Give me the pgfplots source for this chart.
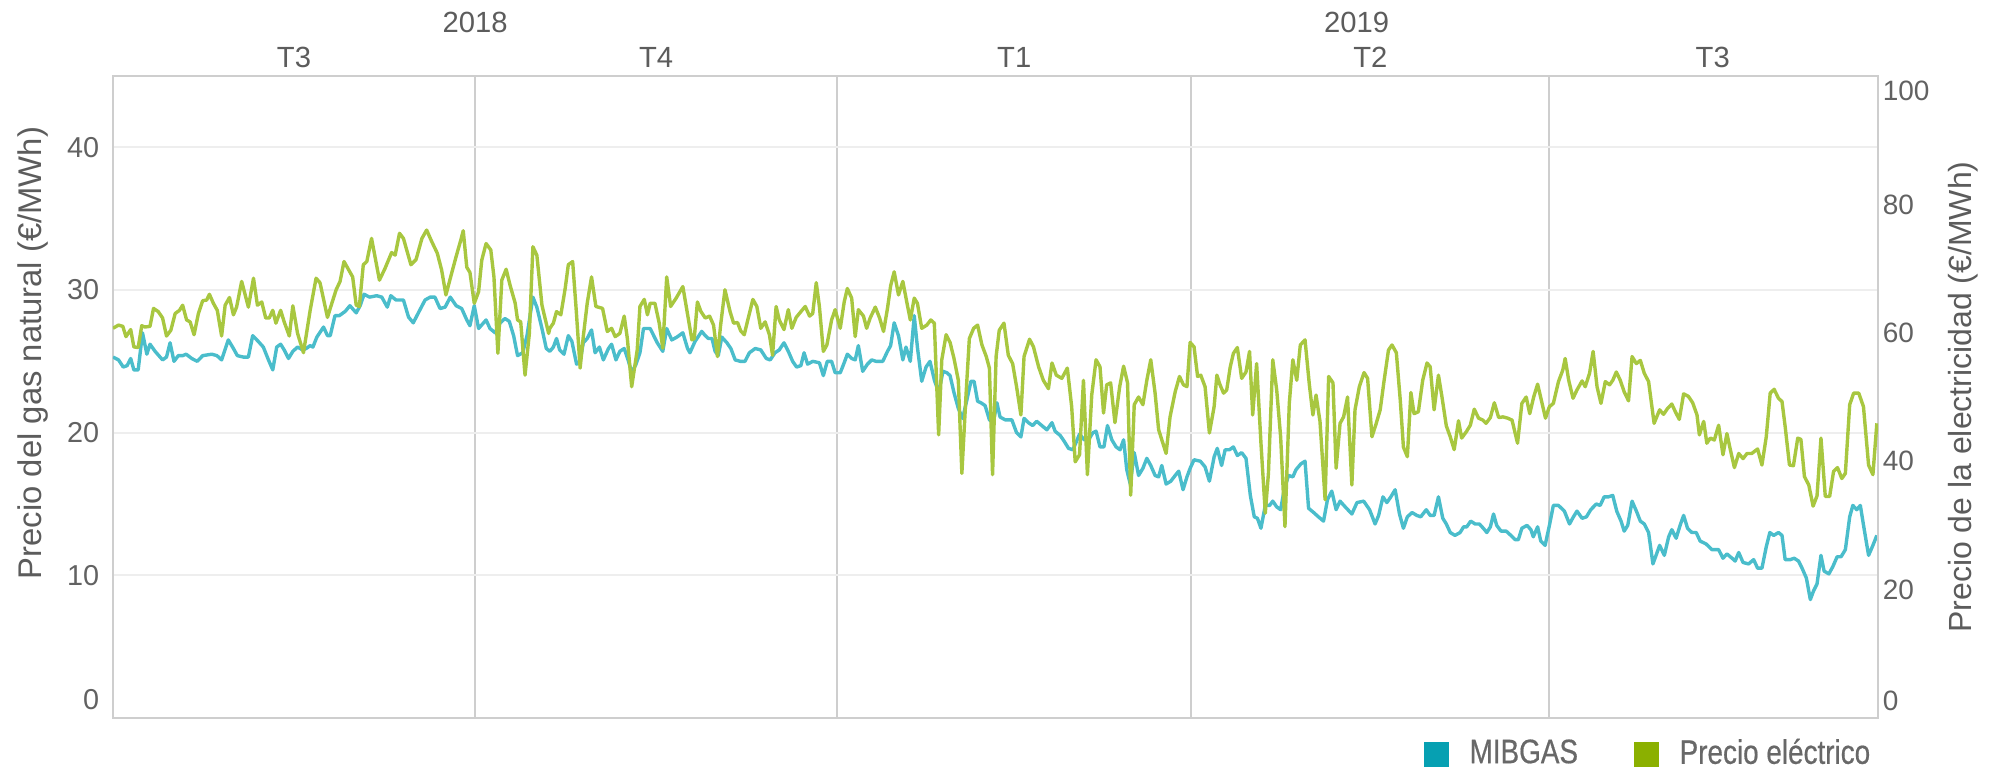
\documentclass[border=0pt]{standalone}
\usepackage{fontspec}
\setmainfont{Liberation Sans}
\newfontfamily\narrowfont[FakeStretch=0.82,FakeBold=0.5]{Liberation Sans}
\usepackage{pgfplots}
\pgfplotsset{compat=1.18}
\usetikzlibrary{calc}
\definecolor{tealLine}{RGB}{74,189,203}
\definecolor{greenLine}{RGB}{168,199,64}
\definecolor{legTeal}{RGB}{6,160,178}
\definecolor{legGreen}{RGB}{139,176,0}
\definecolor{frameGray}{RGB}{206,206,206}
\definecolor{hGrid}{RGB}{238,238,238}
\definecolor{tickGray}{RGB}{98,98,98}
\definecolor{labelGray}{RGB}{92,92,92}
\definecolor{legText}{RGB}{104,104,104}
\begin{document}
\begin{tikzpicture}
\pgfplotsset{
  common/.style={scale only axis, width=441.25pt, height=160.5pt, xmin=0, xmax=448.5,
    major tick length=0pt, /pgf/number format/assume math mode=true,
    clip mode=individual},
}
\begin{axis}[common, name=ax, ymin=0, ymax=45,
  axis line style={draw=frameGray, line width=0.5pt},
  xtick={92,184,274,365}, xticklabels={}, xmajorgrids,
  major x grid style={draw=frameGray, line width=0.5pt},
  ytick={10,20,30,40}, ymajorgrids,
  major y grid style={draw=hGrid, line width=0.5pt},
  extra y ticks={1.26}, extra y tick labels={0}, extra y tick style={grid=none},
  yticklabel style={font=\fontsize{7.2}{8}\selectfont, text=tickGray, inner sep=0pt, anchor=east, xshift=-3.25pt},
  every axis y label/.style={at={(axis description cs:-0.0453,0.5685)}, rotate=90, anchor=center},
  ylabel={Precio del gas natural (€/MWh)},
  ylabel style={font=\fontsize{8.2}{9}\selectfont, text=labelGray},
]
\addplot[tealLine, line width=0.85pt, line join=round] coordinates {
(0,25.3)(1.4,25.1)(2.6,24.6)(3.6,24.7)(4.5,25.2)(5.3,24.4)(6.4,24.4)(7.5,27.0)(8.6,25.5)(9.4,26.2)
(10.7,25.7)(12.6,25.1)(13.6,25.3)(14.5,26.3)(15.5,25.0)(16.6,25.4)(17.7,25.4)(18.6,25.5)(20.0,25.2)
(21.4,25.0)(22.8,25.4)(25.1,25.5)(26.4,25.4)(27.6,25.1)(29.3,26.5)(30.6,25.9)(31.6,25.4)(33.1,25.3)
(34.4,25.3)(35.5,26.8)(36.9,26.4)(38.2,26.0)(39.5,25.1)(40.6,24.4)(41.6,26.0)(42.6,26.2)(43.5,25.8)
(44.6,25.2)(45.7,25.7)(46.9,26.0)(48.2,25.8)(49.1,25.9)(50.1,26.1)(50.8,26.0)(51.8,26.7)(53.5,27.4)
(54.5,26.8)(55.2,26.8)(56.4,28.2)(57.5,28.2)(59.0,28.5)(60.2,28.9)(61.8,28.4)(62.8,28.9)(63.8,29.7)
(65.2,29.5)(67.0,29.6)(68.3,29.5)(69.7,28.8)(70.6,29.6)(71.9,29.3)(73.0,29.3)(73.8,29.3)(75.1,28.1)
(76.3,27.7)(77.6,28.4)(79.3,29.3)(80.6,29.5)(81.8,29.5)(83.1,28.7)(84.4,28.8)(85.7,29.5)(87.2,28.9)
(88.6,28.7)(89.9,27.9)(90.7,27.5)(91.8,28.9)(92.9,27.3)(94.8,27.9)(95.8,27.3)(97.1,27.0)(98.4,27.7)
(99.6,28.0)(100.7,27.8)(101.8,26.8)(102.8,25.4)(104.1,25.6)(105.2,26.8)(106.7,29.5)(107.7,28.8)
(109.0,27.3)(110.1,25.9)(111.0,25.7)(111.9,26.0)(112.7,26.6)(113.5,25.8)(114.6,25.5)(115.7,26.8)
(116.6,26.4)(117.8,24.8)(118.7,25.0)(119.5,26.3)(120.5,26.6)(121.6,27.2)(122.5,25.6)(123.6,26.0)
(124.6,25.1)(125.9,25.9)(126.7,26.2)(127.8,25.1)(128.8,25.7)(129.9,25.9)(131.0,25.0)(131.8,24.2)
(132.9,24.8)(133.9,25.6)(134.8,27.3)(136.5,27.3)(138.3,26.3)(139.7,25.7)(140.7,27.3)(142.0,26.5)
(143.3,26.7)(144.8,27.0)(146.0,25.9)(146.6,25.6)(147.9,26.4)(149.6,27.1)(150.5,26.8)(151.3,26.6)
(152.2,26.6)(153.0,25.7)(153.8,25.4)(154.7,26.7)(156.0,26.3)(157.0,25.9)(158.1,25.1)(159.4,25.0)
(160.6,25.0)(161.7,25.6)(163.2,25.9)(164.6,25.8)(166.0,25.2)(167.0,25.1)(168.2,25.6)(169.3,25.8)
(170.5,26.3)(171.6,25.7)(172.7,25.0)(173.7,24.6)(174.8,24.7)(175.6,25.6)(176.5,24.8)(177.8,25.0)
(179.5,24.9)(180.5,24.0)(181.5,25.0)(182.6,25.0)(183.5,24.2)(184.8,24.2)(185.8,24.9)(186.6,25.5)
(187.7,25.2)(188.6,25.1)(189.4,26.1)(190.5,24.3)(191.7,24.8)(192.8,25.1)(193.9,25.0)(195.6,25.0)
(196.8,25.7)(197.6,26.1)(198.5,27.7)(199.6,26.8)(200.7,25.1)(201.5,26.0)(202.6,25.0)(203.6,28.2)
(204.4,26.0)(205.5,23.6)(206.6,24.6)(207.6,25.0)(208.7,23.7)(209.8,22.8)(210.9,24.3)(211.9,24.2)
(212.7,24.0)(213.7,22.8)(214.8,21.7)(215.9,21.0)(216.9,22.2)(218.0,23.6)(218.8,23.6)(219.7,22.2)
(220.5,22.1)(221.6,21.9)(222.7,20.9)(223.7,20.7)(224.6,22.1)(225.4,21.1)(226.7,20.9)(228.4,20.9)
(229.6,20.0)(230.7,19.7)(231.5,21.0)(232.6,20.7)(233.7,20.5)(234.7,20.8)(236.0,20.5)(237.3,20.2)
(238.6,20.7)(239.4,20.1)(240.7,19.8)(241.7,19.4)(242.8,18.9)(243.9,18.8)(244.7,19.3)(245.6,19.9)
(246.8,19.5)(247.9,19.5)(249.0,20.0)(249.8,20.1)(250.8,19.0)(251.8,19.0)(252.7,20.5)(253.8,19.5)
(254.9,19.0)(255.9,18.8)(256.8,19.5)(257.6,17.4)(258.5,16.4)(259.5,18.6)(260.6,17.0)(261.7,17.5)
(262.7,18.2)(263.7,17.7)(264.8,17.0)(265.7,16.9)(266.5,17.7)(267.6,16.4)(268.8,16.6)(269.9,17.0)
(270.8,17.3)(271.9,16.0)(272.9,16.9)(273.7,17.5)(274.7,18.1)(276.3,18.0)(277.5,17.6)(278.6,16.6)
(279.8,18.3)(280.6,18.9)(281.7,17.7)(282.6,18.8)(283.7,18.8)(284.7,19.0)(285.7,18.4)(286.8,18.6)
(287.9,18.2)(289.0,15.6)(290.0,14.1)(290.8,14.0)(291.7,13.3)(292.8,14.9)(293.9,14.9)(294.7,15.2)
(295.7,14.8)(296.7,14.6)(297.6,16.0)(298.7,17.0)(299.8,16.9)(300.6,17.4)(301.8,17.8)(302.9,18.0)
(303.8,14.7)(305.1,14.4)(306.3,14.1)(307.6,13.8)(308.6,15.3)(309.7,15.9)(310.8,14.6)(311.8,15.2)
(313.1,14.8)(314.8,14.3)(316.1,15.1)(317.8,15.2)(319.3,14.6)(320.7,13.6)(321.6,14.2)(322.7,15.5)
(323.7,15.1)(324.7,15.5)(325.8,16.0)(326.9,14.3)(327.9,13.3)(328.9,14.1)(330.1,14.4)(331.3,14.2)
(332.3,14.1)(333.7,14.6)(334.7,14.2)(335.7,14.2)(336.8,15.5)(337.9,14.0)(338.8,13.6)(339.8,13.0)
(341.0,12.8)(342.3,13.0)(343.2,13.4)(344.0,13.4)(345.0,13.8)(346.1,13.6)(347.2,13.6)(348.2,13.3)
(349.1,13.0)(350.0,13.4)(350.8,14.3)(351.6,13.5)(352.7,13.1)(354.0,13.1)(355.2,12.8)(356.3,12.5)
(357.1,12.5)(358.0,13.3)(359.3,13.5)(360.3,13.2)(360.9,12.7)(362.0,13.4)(362.8,12.4)(363.9,12.1)
(365.0,13.5)(366.0,14.9)(367.3,14.9)(368.8,14.5)(370.1,13.6)(371.1,14.1)(372.0,14.5)(373.3,14.0)
(374.4,14.1)(375.5,14.6)(376.9,15.0)(377.9,14.9)(378.9,15.5)(380.0,15.5)(381.1,15.6)(382.1,14.5)
(383.2,13.8)(384.0,13.1)(384.9,13.5)(386.0,15.2)(387.1,14.5)(388.1,13.8)(389.1,13.6)(390.2,13.0)
(391.3,10.8)(392.1,11.4)(393.0,12.1)(394.2,11.4)(395.3,12.7)(396.1,13.2)(397.2,12.6)(398.2,13.5)
(399.1,14.2)(400.1,13.3)(401.2,13.0)(402.3,13.0)(403.3,12.4)(404.8,12.2)(406.3,11.8)(408.0,11.8)
(409.1,11.2)(410.1,11.5)(411.4,11.2)(412.2,11.0)(413.1,11.6)(414.2,10.9)(415.6,10.8)(416.9,11.1)
(417.9,10.5)(419.0,10.5)(420.1,12.0)(421.0,13.0)(422.0,12.8)(423.2,13.0)(424.1,12.8)(424.9,11.1)
(426.2,11.1)(427.2,11.2)(428.3,11.0)(429.2,10.5)(430.3,9.8)(431.3,8.3)(432.1,8.9)(433.0,9.4)
(434.0,11.4)(434.8,10.3)(436.0,10.1)(437.0,10.6)(438.1,11.3)(439.1,11.3)(440.2,11.8)(441.3,14.1)
(442.1,14.9)(443.1,14.6)(444.0,14.9)(445.0,13.2)(446.1,11.4)(447.2,12.1)(448.2,12.8)
};
\node[font=\fontsize{7.3}{8}\selectfont, text=labelGray, anchor=center, yshift=4.75pt] at (axis cs:46,45) {T3};
\node[font=\fontsize{7.3}{8}\selectfont, text=labelGray, anchor=center, yshift=4.75pt] at (axis cs:138,45) {T4};
\node[font=\fontsize{7.3}{8}\selectfont, text=labelGray, anchor=center, yshift=4.75pt] at (axis cs:229,45) {T1};
\node[font=\fontsize{7.3}{8}\selectfont, text=labelGray, anchor=center, yshift=4.75pt] at (axis cs:319.5,45) {T2};
\node[font=\fontsize{7.3}{8}\selectfont, text=labelGray, anchor=center, yshift=4.75pt] at (axis cs:406.5,45) {T3};
\node[font=\fontsize{7.3}{8}\selectfont, text=labelGray, anchor=center, yshift=13.5pt] at (axis cs:92,45) {2018};
\node[font=\fontsize{7.3}{8}\selectfont, text=labelGray, anchor=center, yshift=13.5pt] at (axis cs:316,45) {2019};
\end{axis}
\begin{axis}[common, ymin=0, ymax=100,
  hide x axis, axis y line*=right,
  y axis line style={draw=frameGray, line width=0.5pt},
  ytick={20,40,60,80}, extra y ticks={2.6,97.7}, extra y tick labels={0,100},
  yticklabel style={font=\fontsize{7}{8}\selectfont, text=tickGray, inner sep=0pt, anchor=west, xshift=1pt},
  every axis y label/.style={at={(axis description cs:1.04816,0.5)}, rotate=90, anchor=center},
  ylabel={Precio de la electricidad (€/MWh)},
  ylabel style={font=\fontsize{8}{9}\selectfont, text=labelGray},
  legend style={at={(1,0)}, anchor=north east, xshift=-1.75pt, yshift=-5pt, draw=none, fill=none,
    inner sep=0pt, row sep=0pt, font=\narrowfont\fontsize{8.5}{9}\selectfont, text=legText,
    nodes={inner sep=0pt},
    /tikz/every odd column/.append style={column sep=5.25pt},
    /tikz/every even column/.append style={column sep=14pt}},
  legend columns=2, legend cell align=left,
]
\addlegendimage{legend image code/.code={\fill[legTeal] (0pt,-2.875pt) rectangle (5.75pt,2.875pt);}}
\addlegendentry{MIBGAS}
\addlegendimage{legend image code/.code={\fill[legGreen] (0pt,-2.875pt) rectangle (5.75pt,2.875pt);}}
\addlegendentry{Precio eléctrico}
\addplot[greenLine, line width=0.85pt, line join=round, forget plot] coordinates {
(0,60.7)(1.4,61.2)(2.5,61.0)(3.3,59.4)(4.5,60.5)(5.3,57.8)(6.4,57.7)(7.3,61.1)(8.1,60.9)(9.4,61.0)
(10.3,63.8)(11.5,63.3)(12.6,62.3)(13.6,59.5)(14.7,60.4)(15.8,63.0)(16.9,63.5)(17.7,64.3)(18.7,62.0)
(19.6,61.7)(20.6,59.7)(21.7,63.0)(22.8,65.0)(23.8,65.1)(24.5,66.0)(25.5,64.6)(26.5,63.5)(27.6,59.5)
(28.5,64.3)(29.6,65.5)(30.6,62.8)(31.4,64.0)(32.7,68.0)(34.4,64.0)(35.7,68.5)(36.7,64.3)(37.8,64.8)
(38.8,62.3)(39.7,62.3)(40.6,63.5)(41.4,61.5)(42.6,63.5)(43.5,61.7)(44.8,59.5)(45.7,64.2)(46.9,59.9)
(48.4,56.9)(50.1,63.5)(51.6,68.5)(52.6,67.8)(54.5,62.4)(55.2,63.8)(56.7,66.7)(57.7,68.0)(58.7,71.1)
(59.8,69.9)(60.9,68.7)(61.8,64.3)(62.6,64.1)(63.6,70.6)(64.5,71.1)(65.7,74.7)(67.7,68.2)(69.1,70.0)
(70.8,72.5)(71.7,72.1)(72.8,75.5)(73.8,74.7)(75.7,70.6)(77.0,71.4)(78.5,74.7)(79.7,76.0)(81.0,74.2)
(82.4,72.4)(83.5,69.8)(84.6,65.9)(85.8,68.7)(87.2,71.9)(88.4,74.5)(89.0,75.9)(89.9,70.2)(90.7,69.4)
(91.8,64.6)(92.9,66.4)(93.7,71.3)(94.8,73.9)(96.0,72.9)(96.8,68.7)(97.8,56.8)(98.8,68.2)(99.9,69.9)
(100.9,67.4)(102.2,64.6)(102.8,62.0)(103.6,61.7)(104.7,53.4)(105.8,59.9)(106.7,73.4)(107.7,72.1)
(109.0,64.3)(110.7,59.9)(111.0,60.7)(111.9,61.5)(112.7,63.3)(113.8,62.8)(114.9,66.9)(115.7,70.6)
(116.8,71.1)(117.7,63.6)(118.7,54.5)(119.5,59.4)(120.5,64.6)(121.6,68.7)(122.7,64.1)(124.4,63.8)
(125.6,60.2)(126.7,60.7)(127.6,59.4)(128.8,59.9)(129.9,62.6)(130.7,59.1)(131.8,51.6)(133.2,57.3)
(133.9,64.1)(135.0,65.2)(135.8,62.8)(136.5,64.6)(137.7,64.6)(138.8,61.5)(139.7,57.6)(140.7,68.7)
(141.7,64.1)(143.1,65.4)(144.8,67.2)(145.8,63.6)(147.1,58.9)(147.7,59.1)(148.5,64.8)(149.4,63.3)
(150.5,62.3)(151.6,62.6)(152.6,61.2)(153.6,56.3)(154.4,61.2)(155.5,66.7)(156.8,63.3)(157.7,61.5)
(158.7,61.6)(159.5,60.3)(160.4,59.7)(161.5,62.5)(162.6,65.2)(163.6,64.1)(164.6,60.7)(165.7,61.7)
(166.8,59.7)(167.6,56.5)(168.5,64.1)(169.3,62.0)(170.5,60.5)(171.6,63.6)(172.5,60.7)(173.6,62.4)
(174.8,63.3)(175.9,64.1)(177.0,62.6)(177.8,63.0)(178.7,67.8)(179.5,64.1)(180.5,57.1)(181.4,58.1)
(182.6,62.0)(183.5,63.6)(184.8,60.7)(185.8,64.8)(186.6,66.9)(187.7,65.4)(188.6,59.4)(189.4,63.6)
(190.7,62.6)(191.5,60.7)(192.4,62.3)(193.7,64.0)(194.8,62.3)(195.8,60.2)(196.8,63.8)(197.6,67.3)
(198.5,69.5)(199.6,65.9)(200.7,68.0)(201.7,64.8)(202.6,62.0)(203.6,65.4)(204.4,64.6)(205.5,60.7)
(206.8,61.2)(207.8,62.0)(208.7,61.5)(209.8,44.1)(210.6,55.8)(211.7,59.7)(212.7,58.5)(213.7,56.0)
(214.8,52.6)(215.7,38.1)(216.8,50.8)(217.6,59.1)(218.7,60.7)(219.7,61.2)(220.8,58.1)(221.9,56.3)
(222.7,54.5)(223.5,37.9)(224.4,56.3)(225.2,60.4)(226.4,61.5)(227.5,56.5)(228.6,55.2)(229.6,51.6)
(230.7,47.2)(231.5,56.3)(232.9,59.0)(233.9,57.8)(235.2,54.7)(236.4,52.6)(237.7,51.3)(238.6,55.3)
(239.7,53.4)(241.1,52.9)(242.5,54.5)(243.6,48.5)(244.5,39.9)(245.6,41.0)(246.6,52.6)(247.6,37.9)
(248.7,50.3)(249.8,55.8)(250.8,54.7)(251.7,47.5)(252.5,51.9)(253.5,52.2)(254.6,46.0)(255.8,51.6)
(256.8,54.8)(257.8,52.2)(258.6,34.7)(259.5,48.8)(260.6,50.0)(261.7,48.8)(262.7,52.6)(263.7,55.8)
(264.8,50.6)(265.7,44.9)(267.6,41.2)(268.6,46.9)(269.9,50.8)(271.0,53.2)(272.0,51.9)(272.9,51.6)
(273.7,58.5)(274.7,57.8)(275.6,53.2)(276.4,53.4)(277.5,51.6)(278.6,44.4)(279.8,48.5)(280.5,53.4)
(281.3,51.9)(282.2,50.6)(283.0,51.1)(283.9,54.7)(284.7,56.8)(285.7,57.7)(286.8,52.9)(287.9,53.9)
(288.8,57.1)(289.6,47.2)(290.6,55.2)(291.7,42.8)(292.8,31.9)(293.6,38.1)(294.7,55.8)(295.7,51.1)
(296.7,43.8)(297.8,29.8)(298.9,49.0)(299.8,55.8)(300.8,52.6)(301.7,58.1)(302.9,58.9)(304.0,51.9)
(304.9,47.2)(305.7,50.3)(306.7,46.2)(308.0,34.0)(308.9,53.2)(310.0,52.2)(310.8,38.9)(311.8,45.9)
(312.7,46.9)(313.7,50.0)(314.8,36.3)(315.6,48.0)(316.7,51.6)(317.9,53.8)(318.8,52.9)(319.9,43.8)
(321.0,45.9)(322.0,48.0)(323.0,52.6)(324.1,57.3)(325.0,58.1)(326.1,56.9)(327.1,49.5)(327.9,42.2)
(328.9,40.7)(329.8,50.7)(330.6,47.4)(331.7,47.7)(332.8,52.6)(333.9,55.3)(334.7,54.7)(335.7,48.0)
(336.8,53.4)(337.7,50.0)(338.8,45.5)(339.8,43.8)(340.8,41.8)(341.9,46.3)(342.7,43.6)(343.9,44.6)
(344.9,45.6)(345.9,48.1)(347.0,46.7)(348.1,46.4)(348.9,45.9)(350.0,46.8)(351.0,49.1)(352.1,46.8)
(353.2,46.9)(354.4,46.7)(355.5,46.4)(356.9,42.8)(358.0,49.0)(359.1,50.0)(360.0,47.4)(361.0,50.0)
(362.0,52.0)(363.1,49.1)(364.0,46.7)(365.0,48.5)(366.0,49.0)(367.3,52.4)(368.4,54.2)(369.0,56.0)
(369.9,52.6)(371.0,49.8)(372.0,51.1)(373.3,52.5)(374.1,51.6)(375.2,53.7)(376.1,57.1)(377.1,51.6)
(378.1,49.0)(379.2,52.4)(380.3,51.9)(381.1,52.6)(382.0,53.9)(383.0,52.6)(384.0,50.8)(385.1,49.4)
(386.0,56.3)(387.1,55.2)(388.1,55.7)(389.1,53.7)(390.2,52.4)(391.6,45.9)(393.0,48.0)(394.0,47.3)
(395.0,48.2)(396.1,48.9)(397.0,47.7)(398.0,46.5)(399.1,50.5)(400.3,50.1)(401.4,49.1)(402.5,47.2)
(403.1,44.1)(404.2,46.2)(405.0,42.8)(405.9,43.6)(406.9,43.3)(408.0,45.6)(409.1,41.0)(410.1,44.3)
(410.9,42.0)(412.0,39.0)(413.1,41.2)(414.2,40.4)(415.2,41.2)(416.4,41.2)(417.9,41.9)(419.0,39.4)
(420.1,43.8)(421.1,50.6)(422.1,51.2)(423.2,49.8)(424.1,49.3)(424.9,45.4)(426.0,39.4)(427.0,39.3)
(428.1,43.6)(428.9,43.4)(429.8,37.6)(430.9,36.3)(432.0,33.0)(433.0,34.6)(434.0,43.6)(435.1,34.5)
(436.2,34.5)(437.2,38.4)(438.2,39.0)(439.3,37.3)(440.2,38.1)(441.3,48.8)(442.3,50.6)(443.6,50.6)
(444.8,48.5)(446.1,39.4)(447.2,37.9)(448.2,45.9)
};
\end{axis}
\pgfresetboundingbox
\path[use as bounding box] ($(ax.south west)+(-28.25pt,-12.75pt)$) rectangle ($(ax.north east)+(28pt,19pt)$);
\end{tikzpicture}
\end{document}
